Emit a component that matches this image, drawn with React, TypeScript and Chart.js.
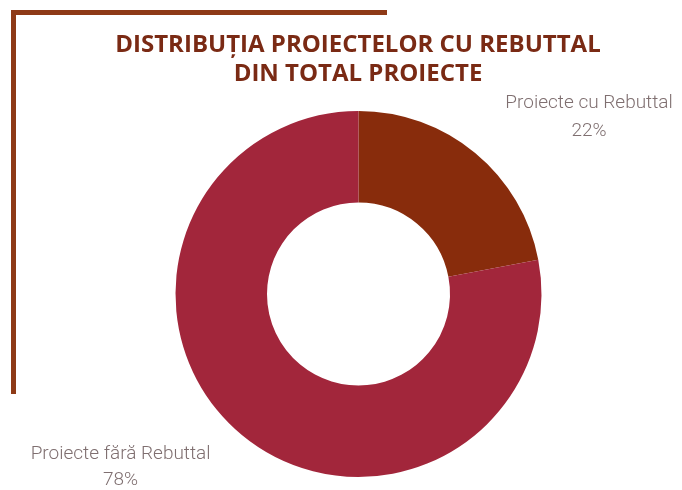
import React, { useEffect, useRef } from "react";
import { Chart, registerables } from "chart.js";

Chart.register(...registerables);

const categories = ["Proiecte cu Rebuttal", "Proiecte fără Rebuttal"];
const values = [22, 78];
const percentLabels = ["22%", "78%"];
const sliceColors = ["#882C0C", "#A2263B"];
const titleLines = ["DISTRIBUȚIA PROIECTELOR CU REBUTTAL", "DIN TOTAL PROIECTE"];

const decorPlugin = {
  id: "decor",
  beforeDraw(chart: any) {
    const ctx = chart.ctx;
    ctx.save();
    ctx.fillStyle = "#ffffff";
    ctx.fillRect(0, 0, chart.width, chart.height);
    ctx.fillStyle = "#8E3A17";
    ctx.fillRect(11, 10, 376, 5);
    ctx.fillRect(11, 10, 5, 384);
    ctx.restore();
  },
  afterDraw(chart: any) {
    const ctx = chart.ctx;
    const arc = chart.getDatasetMeta(0).data[0];
    const cx = arc.x;
    const cy = arc.y;
    const R = arc.outerRadius;
    ctx.save();
    ctx.textAlign = "center";
    ctx.textBaseline = "middle";
    ctx.fillStyle = "#7A2A14";
    ctx.font = "bold 24px 'Open Sans'";
    ctx.fillText(titleLines[0], 358, 45);
    ctx.fillText(titleLines[1], 358, 74);
    ctx.fillStyle = "#7F6F70";
    ctx.font = "300 19px Roboto";
    ctx.fillText(categories[0], cx + R * 1.26, cy - R * 1.04);
    ctx.fillText(percentLabels[0], cx + R * 1.26, cy - R * 0.89);
    ctx.fillText(categories[1], cx - R * 1.3, cy + R * 0.875);
    ctx.fillText(percentLabels[1], cx - R * 1.3, cy + R * 1.02);
    ctx.restore();
  },
};

export default function App() {
  const ref = useRef<HTMLCanvasElement>(null);
  useEffect(() => {
    document.body.style.margin = "0";
    const chart = new Chart(ref.current!, {
      type: "doughnut",
      data: {
        labels: categories,
        datasets: [
          {
            data: values,
            backgroundColor: sliceColors,
            borderWidth: 0,
          },
        ],
      },
      options: {
        animation: false,
        responsive: false,
        cutout: "50%",
        layout: { padding: { left: 174, right: 139, top: 111, bottom: 13 } },
        plugins: {
          legend: { display: false },
          tooltip: { enabled: false },
        },
      },
      plugins: [decorPlugin],
    });
    return () => chart.destroy();
  }, []);
  return (
    <div style={{ width: 682, height: 490 }}>
      <canvas ref={ref} width={682} height={490} style={{ display: "block" }} />
    </div>
  );
}
